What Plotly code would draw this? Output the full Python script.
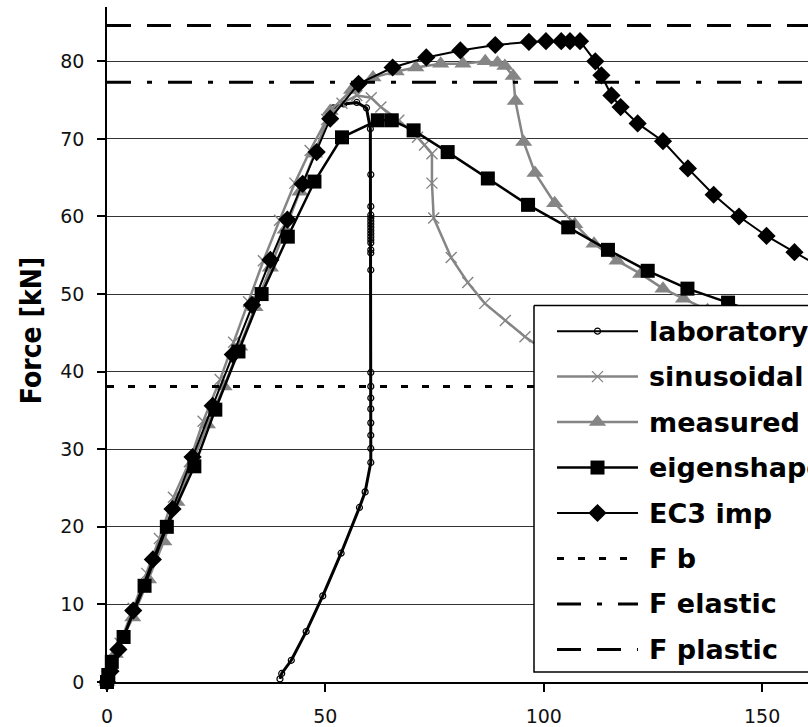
import plotly.graph_objects as go

# ---- data: displacement [mm] vs force [kN] ----
lab_x = [39.6, 40.0, 42.2, 45.6, 49.4, 53.6, 57.8, 59.1, 60.4, 60.4, 60.4, 60.4, 60.4, 60.4,
         60.4, 60.4, 60.4, 60.4, 60.4, 60.4, 60.4, 60.4, 60.4, 60.4, 60.4, 60.4, 60.4, 60.4,
         60.4, 60.4, 60.4, 60.3, 59.4, 57.2, 54.2, 51.8]
lab_y = [0.4, 1.1, 2.8, 6.5, 11.1, 16.6, 22.5, 24.5, 28.3, 30.1, 31.8, 33.4, 35.2, 36.6,
         38.1, 39.9, 53.1, 55.3, 55.7, 56.6, 57.0, 57.4, 57.8, 58.2, 58.6, 59.0, 59.4, 59.8,
         60.2, 61.3, 65.4, 71.3, 74.0, 74.7, 74.5, 74.0]

sin_x = [0, 1.0, 3.0, 6.0, 9.1, 12.0, 15.2, 18.9, 22.0, 25.9, 29.0, 32.4, 35.8, 39.5, 43.0,
         46.5, 50.3, 53.8, 57.2, 60.5, 62.7, 66.8, 71.1, 72.7, 74.4, 74.4, 74.8, 78.8, 82.6,
         86.5, 91.2, 95.7, 100.5, 106.0, 112.0, 119.0, 127.0]
sin_y = [0, 1.8, 5.0, 9.5, 14.0, 18.5, 23.8, 28.4, 33.6, 39.0, 43.8, 49.0, 54.3, 59.5, 64.3,
         68.5, 72.5, 74.6, 75.6, 75.3, 74.1, 72.4, 70.2, 69.2, 68.1, 64.3, 59.8, 54.7, 51.5,
         48.8, 46.6, 44.5, 42.6, 40.8, 39.2, 37.6, 36.2]

meas_x = [0, 1.9, 5.9, 9.5, 13.0, 16.0, 19.5, 23.0, 26.8, 30.4, 33.9, 37.4, 40.8, 44.2, 47.5,
          51.1, 56.0, 60.9, 66.2, 70.7, 76.4, 81.5, 86.6, 89.4, 91.1, 93.0, 93.5, 95.4, 98.0,
          102.5, 107.1, 111.5, 116.8, 122.2, 127.3, 132.0, 137.5, 143.5, 150.0, 157.0, 164.0]
meas_y = [0, 3.6, 8.3, 13.2, 18.1, 23.2, 28.2, 33.2, 38.1, 43.2, 48.3, 53.4, 58.3, 63.2, 68.1,
          73.6, 76.3, 77.9, 78.7, 79.2, 79.7, 79.7, 80.0, 79.8, 79.4, 78.1, 74.9, 69.6, 65.6,
          61.7, 59.0, 56.5, 54.3, 52.6, 50.7, 49.4, 47.9, 46.3, 44.8, 43.3, 41.8]

eig_x = [0, 0.3, 1.1, 3.8, 8.6, 13.7, 20.0, 24.8, 30.1, 35.4, 41.4, 47.5, 53.8, 62.0, 65.2,
         70.2, 78.0, 87.2, 96.4, 105.6, 114.7, 123.8, 132.9, 142.2, 151.4, 160.6]
eig_y = [0, 0.9, 2.6, 5.8, 12.4, 20.0, 27.8, 35.1, 42.6, 50.0, 57.4, 64.5, 70.2, 72.4, 72.4,
         71.1, 68.3, 64.9, 61.5, 58.6, 55.7, 53.0, 50.7, 48.9, 47.1, 45.4]

ec3_x = [0, 0.8, 2.6, 6.0, 10.5, 15.0, 19.6, 24.2, 28.8, 33.2, 37.4, 41.3, 44.8, 48.0, 51.1,
         57.6, 65.4, 73.1, 80.9, 88.9, 96.6, 100.5, 104.0, 106.0, 108.3, 111.8, 113.2, 115.5,
         117.6, 121.5, 127.3, 133.0, 138.9, 144.7, 151.0, 157.4, 163.6]
ec3_y = [0, 1.4, 4.2, 9.2, 15.8, 22.3, 29.0, 35.6, 42.2, 48.6, 54.4, 59.6, 64.2, 68.3, 72.6,
         77.1, 79.2, 80.5, 81.4, 82.1, 82.5, 82.6, 82.6, 82.6, 82.6, 80.0, 78.2, 75.6,
         74.1, 72.0, 69.7, 66.2, 62.8, 60.0, 57.5, 55.4, 53.4]

F_b = 38.1
F_elastic = 77.3
F_plastic = 84.6

x_ticks = [0, 50, 100, 150]
y_ticks = [0, 10, 20, 30, 40, 50, 60, 70, 80]
x_max = 160.5
y_max = 87.0

legend_names = ["laboratory test", "sinusoidal", "measured", "eigenshape",
                "EC3 imp", "F b", "F elastic", "F plastic"]

# ---- styles ----
GRAY = "#858585"
styles = [
    dict(line=dict(color="black", width=3),
         marker=dict(symbol="circle-open", size=6, color="black", line=dict(width=1.2, color="black"))),
    dict(line=dict(color=GRAY, width=2.5),
         marker=dict(symbol="x-thin", size=11, color=GRAY, line=dict(width=1.4, color=GRAY))),
    dict(line=dict(color=GRAY, width=2.5),
         marker=dict(symbol="triangle-up", size=15, color=GRAY, line=dict(width=0))),
    dict(line=dict(color="black", width=2.5),
         marker=dict(symbol="square", size=14, color="black", line=dict(width=0))),
    dict(line=dict(color="black", width=2),
         marker=dict(symbol="diamond", size=14, color="black", line=dict(width=0))),
]
legend_line_width = [2, 2.5, 2.5, 2.5, 2]
ref_dash = ["7px,14px", "24px,16px,5px,16px", "24px,16px"]

fig = go.Figure()

series = [(lab_x, lab_y), (sin_x, sin_y), (meas_x, meas_y), (eig_x, eig_y), (ec3_x, ec3_y)]
for (xs, ys), st, name in zip(series, styles, legend_names):
    fig.add_trace(go.Scatter(x=xs, y=ys, mode="lines+markers", name=name,
                             line=st["line"], marker=st["marker"],
                             cliponaxis=False, showlegend=False))

for val, dash, name in zip([F_b, F_elastic, F_plastic], ref_dash, legend_names[5:]):
    fig.add_trace(go.Scatter(x=[0, x_max + 10], y=[val, val], mode="lines", name=name,
                             line=dict(color="black", width=3, dash=dash), showlegend=False))

# ---- legend panel drawn on a pixel-scaled overlay axis ----
L, R, T, B = 107, 808, 7, 690
box_l, box_t, box_b = 534, 309, 680
row_y = [335, 381, 427, 473, 519, 565, 611, 657]
s_l, s_r = 557, 638
s_c = (s_l + s_r) / 2

fig.add_trace(go.Scatter(x=[box_l, 830, 830, box_l, box_l], y=[box_t, box_t, box_b, box_b, box_t],
                         mode="lines", fill="toself", fillcolor="white",
                         line=dict(color="black", width=1.5),
                         xaxis="x2", yaxis="y2", hoverinfo="skip", showlegend=False))

for i, name in enumerate(legend_names):
    yy = row_y[i]
    if i < 5:
        st = styles[i]
        fig.add_trace(go.Scatter(x=[s_l, s_r], y=[yy, yy], mode="lines",
                                 line=dict(color=st["line"]["color"], width=legend_line_width[i]),
                                 xaxis="x2", yaxis="y2", hoverinfo="skip", showlegend=False))
        fig.add_trace(go.Scatter(x=[s_c], y=[yy], mode="markers", marker=st["marker"],
                                 xaxis="x2", yaxis="y2", hoverinfo="skip", showlegend=False))
    else:
        fig.add_trace(go.Scatter(x=[s_l, s_r], y=[yy, yy], mode="lines",
                                 line=dict(color="black", width=3, dash=ref_dash[i - 5]),
                                 xaxis="x2", yaxis="y2", hoverinfo="skip", showlegend=False))
    fig.add_annotation(x=647, y=yy, xref="x2", yref="y2", text=name, showarrow=False,
                       xanchor="left", yanchor="middle",
                       font=dict(family="DejaVu Sans", size=27, color="black", weight="bold"))

# ---- axis title ----
fig.add_annotation(x=(31 - L) / (R - L), y=(B - 335) / (B - T), xref="paper", yref="paper",
                   text="Force [kN]", textangle=-90, showarrow=False,
                   xanchor="center", yanchor="middle",
                   font=dict(family="DejaVu Sans Condensed, DejaVu Sans, sans-serif",
                             size=28, color="black", weight="bold"))

tick_font = dict(family="DejaVu Sans", size=19, color="#111111")
fig.update_layout(
    width=808, height=727,
    margin=dict(l=L, r=808 - R, t=T, b=727 - B, pad=0),
    paper_bgcolor="white", plot_bgcolor="white",
    showlegend=False,
    xaxis=dict(range=[0, x_max], tickvals=x_ticks, ticks="outside", ticklen=8, tickwidth=1.5,
               tickcolor="black", showline=True, linecolor="black", linewidth=1.5,
               showgrid=False, zeroline=False, tickfont=tick_font, ticklabelstandoff=8),
    yaxis=dict(range=[0, y_max], tickvals=y_ticks, ticks="outside", ticklen=8, tickwidth=1.5,
               tickcolor="black", showline=True, linecolor="black", linewidth=1.5,
               showgrid=True, gridcolor="#333333", gridwidth=1.2, zeroline=False,
               tickfont=tick_font, ticklabelstandoff=9),
    xaxis2=dict(range=[L, R], overlaying="x", visible=False, fixedrange=True),
    yaxis2=dict(range=[B, T], overlaying="y", visible=False, fixedrange=True),
)

fig.write_html("out.html")
